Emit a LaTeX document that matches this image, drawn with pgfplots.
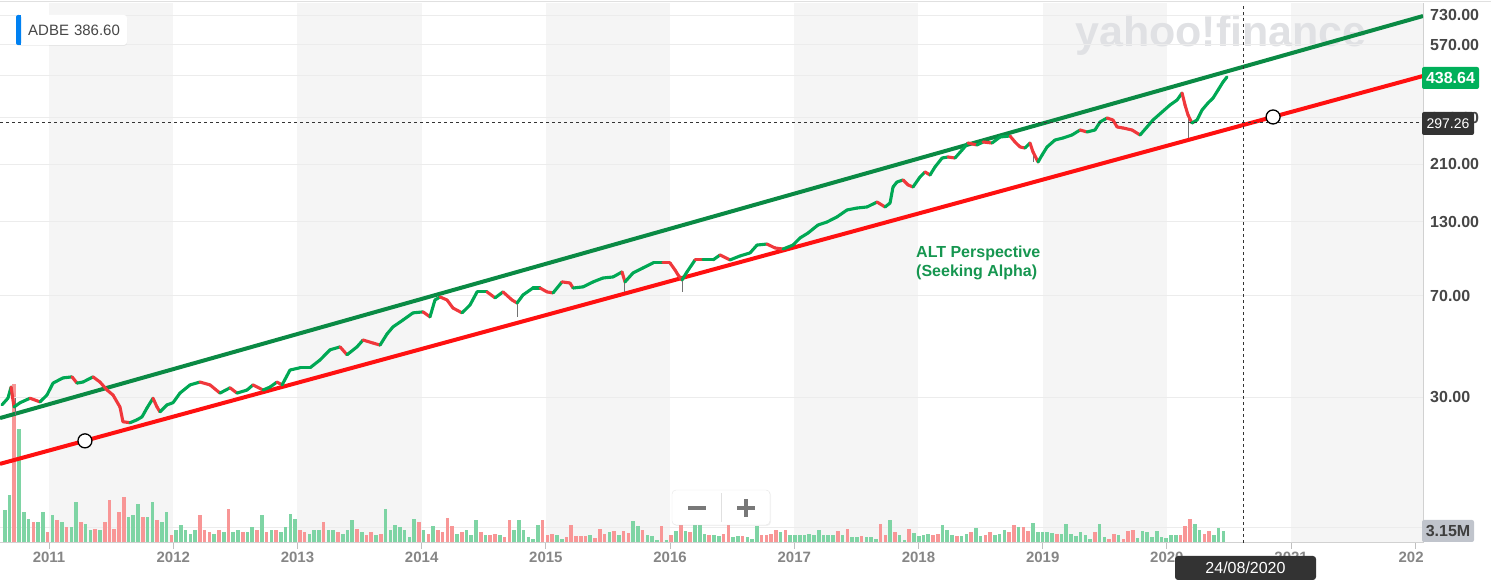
\documentclass[border=0pt]{standalone}
\usepackage{fontspec}
\setmainfont{Liberation Sans}
\usepackage{pgfplots}
\pgfplotsset{compat=1.18}
\usepackage{pgfplotstable}
\usetikzlibrary{shadows}

\definecolor{bandc}{RGB}{245,245,245}
\definecolor{gridc}{RGB}{236,236,236}
\definecolor{candG}{RGB}{0,168,84}
\definecolor{candR}{RGB}{240,56,60}
\definecolor{trendG}{RGB}{10,138,68}
\definecolor{trendR}{RGB}{255,16,16}
\definecolor{volG}{RGB}{126,212,164}
\definecolor{volR}{RGB}{248,150,150}
\definecolor{tickc}{RGB}{134,134,134}
\definecolor{labc}{RGB}{70,70,70}
\definecolor{tagdark}{RGB}{51,51,51}
\definecolor{taggreen}{RGB}{0,176,90}
\definecolor{taggray}{RGB}{192,196,204}
\definecolor{altgreen}{RGB}{22,150,80}
\definecolor{wmark}{RGB}{224,225,228}
\definecolor{yblue}{RGB}{0,129,242}
\definecolor{btn}{RGB}{120,120,120}

% weekly-ish closes: year, price, direction of next move (1 up / 0 down)
\pgfplotstableread{
x p m
2010.621 28.1 1
2010.669 29.7 1
2010.694 32.6 0
2010.718 27.6 1
2010.766 28.6 1
2010.847 29.7 0
2010.927 28.8 1
2010.983 30.5 1
2011.032 33.7 1
2011.112 35.2 1
2011.185 35.5 0
2011.225 33.7 1
2011.273 34.0 1
2011.354 35.5 0
2011.410 34.0 0
2011.467 31.8 0
2011.515 30.5 0
2011.571 27.6 0
2011.595 24.4 0
2011.652 24.2 1
2011.708 24.8 1
2011.748 25.4 1
2011.789 27.4 1
2011.837 29.7 0
2011.869 27.6 0
2011.893 26.5 1
2011.950 28.1 1
2011.998 28.6 1
2012.054 31.0 1
2012.135 33.2 1
2012.215 34.0 0
2012.296 33.2 0
2012.376 31.0 1
2012.457 32.4 0
2012.513 31.0 1
2012.594 31.8 1
2012.642 33.2 0
2012.723 31.8 1
2012.779 32.6 1
2012.835 34.0 0
2012.876 33.2 1
2012.940 37.6 1
2013.020 38.3 1
2013.101 38.3 1
2013.182 40.9 1
2013.262 44.5 1
2013.343 45.6 0
2013.399 42.7 1
2013.479 45.6 1
2013.528 48.3 0
2013.608 47.1 0
2013.665 46.3 1
2013.721 50.8 1
2013.769 53.9 1
2013.850 57.1 1
2013.930 60.6 1
2014.011 61.1 0
2014.067 58.6 1
2014.107 67.5 1
2014.148 69.2 0
2014.204 67.5 0
2014.252 63.1 0
2014.325 60.6 1
2014.389 64.7 1
2014.446 72.2 1
2014.526 72.2 0
2014.591 68.7 1
2014.655 72.2 0
2014.727 67.5 0
2014.768 65.8 1
2014.816 70.4 1
2014.896 74.6 1
2014.953 74.6 0
2015.009 72.2 0
2015.058 71.6 1
2015.130 78.5 0
2015.194 77.8 0
2015.219 74.6 1
2015.299 75.3 1
2015.380 78.5 1
2015.460 81.1 1
2015.541 81.8 1
2015.613 85.3 0
2015.637 78.5 1
2015.702 84.6 1
2015.782 88.2 1
2015.863 92.0 1
2015.943 92.0 0
2015.999 92.0 0
2016.040 86.7 0
2016.064 83.2 0
2016.096 79.8 1
2016.136 85.3 1
2016.201 94.3 0
2016.265 94.3 1
2016.346 94.3 1
2016.402 98.3 0
2016.483 94.3 1
2016.563 97.5 1
2016.644 100.0 1
2016.700 106.8 1
2016.780 107.7 0
2016.845 104.2 0
2016.909 103.3 1
2016.990 106.8 1
2017.046 113.3 1
2017.111 118.1 1
2017.191 126.3 1
2017.264 129.5 1
2017.344 135.1 1
2017.425 143.2 1
2017.505 145.5 1
2017.586 146.8 1
2017.666 153.0 0
2017.731 146.8 1
2017.771 151.7 1
2017.795 173.5 1
2017.827 180.9 1
2017.876 183.9 0
2017.916 176.4 0
2017.956 173.5 1
2018.012 188.6 1
2018.053 196.7 0
2018.093 191.8 1
2018.133 205.1 1
2018.190 221.0 1
2018.238 222.9 0
2018.294 221.0 1
2018.351 236.3 1
2018.399 250.5 0
2018.471 246.4 1
2018.520 252.6 0
2018.592 250.5 1
2018.657 263.4 1
2018.737 265.6 0
2018.777 252.6 0
2018.818 242.3 0
2018.858 240.3 1
2018.898 250.5 0
2018.922 232.4 0
2018.963 213.8 1
2018.995 226.6 1
2019.035 242.3 1
2019.099 256.9 1
2019.164 261.2 1
2019.236 267.9 1
2019.301 279.3 0
2019.357 274.7 1
2019.421 279.3 1
2019.462 298.6 1
2019.518 308.8 0
2019.566 303.6 0
2019.599 286.4 0
2019.647 284.0 0
2019.719 279.3 0
2019.784 267.9 1
2019.840 286.4 1
2019.888 303.6 1
2019.961 324.6 1
2020.025 344.1 1
2020.082 358.8 1
2020.122 380.4 0
2020.146 344.1 0
2020.170 316.6 0
2020.202 296.1 1
2020.243 303.6 1
2020.283 330.1 1
2020.331 349.9 1
2020.372 364.9 1
2020.412 390.1 1
2020.452 417.1 1
2020.484 434.9 1
}\pricedata

\begin{document}
\begin{tikzpicture}
\path[use as bounding box] (0pt,0pt) rectangle (1491pt,585pt);

% ---- background year bands ----
\begin{axis}[at={(0pt,42pt)}, anchor=south west, scale only axis,
  width=1423pt, height=540pt, xmin=2010.605, xmax=2022.062,
  ymin=0, ymax=1, hide axis]
\fill[bandc] (axis cs:2011,0) rectangle (axis cs:2012,1);
\fill[bandc] (axis cs:2013,0) rectangle (axis cs:2014,1);
\fill[bandc] (axis cs:2015,0) rectangle (axis cs:2016,1);
\fill[bandc] (axis cs:2017,0) rectangle (axis cs:2018,1);
\fill[bandc] (axis cs:2019,0) rectangle (axis cs:2020,1);
\fill[bandc] (axis cs:2021,0) rectangle (axis cs:2022.062,1);
\end{axis}

% watermark
\begin{scope}[x=1pt,y=1pt]
\node[anchor=base west, inner sep=0pt, text=wmark,
  font=\fontsize{43}{50}\selectfont\bfseries] at (1075,538) {yahoo!finance};
\end{scope}

% ---- volume (millions), x in weeks from start ----
\begin{axis}[at={(0pt,42pt)}, anchor=south west, scale only axis,
  width=1423pt, height=540pt, xmin=0, xmax=597.9,
  ymin=0, ymax=113.4, hide axis]
\draw[gridc, line width=1pt] (axis cs:0,3.15) -- (axis cs:597.9,3.15);
\addplot[ycomb, draw=volG, line width=3.6pt, mark=none] coordinates {
(2,6.9) (4,10.1) (8,23.9) (10,6.5) (12,5.0) (16,4.4) (18,6.5) (22,5.9) (26,4.4) (30,3.4) (32,8.6) (36,4.0) (38,2.7) (42,2.7) (54,5.5) (56,5.9) (58,8.2) (62,5.5) (64,8.6) (68,4.4) (70,6.5) (74,2.7) (76,3.8) (78,2.7) (80,1.9) (82,2.7) (90,1.9) (94,2.3) (98,2.3) (100,2.7) (104,2.3) (106,3.4) (110,5.9) (114,2.7) (118,2.3) (120,3.4) (122,6.1) (124,5.0) (130,1.9) (132,2.7) (134,2.7) (138,2.7) (140,2.7) (144,1.9) (146,2.7) (148,4.8) (152,2.3) (158,1.7) (162,7.1) (164,2.7) (166,3.8) (168,3.4) (170,2.7) (172,1.3) (174,5.0) (178,2.7) (182,3.6) (192,1.9) (196,2.7) (198,1.7) (200,4.8) (204,1.7) (210,1.7) (216,2.7) (218,4.8) (220,2.7) (222,1.3) (224,0.8) (226,3.8) (234,1.7) (236,0.8) (248,1.7) (256,2.3) (260,1.7) (266,4.6) (268,3.6) (272,1.7) (274,1.5) (276,0.6) (280,0.6) (284,2.5) (288,2.5) (292,4.4) (294,3.8) (296,1.9) (300,1.7) (302,1.5) (308,1.3) (310,1.5) (314,1.3) (316,0.8) (318,3.6) (328,2.3) (332,1.7) (334,1.7) (336,1.7) (338,1.7) (340,1.9) (342,1.7) (344,2.7) (346,1.7) (348,1.7) (350,1.7) (354,1.7) (358,1.3) (360,1.3) (364,1.3) (366,1.3) (368,0.8) (374,4.8) (378,1.7) (380,0.6) (384,2.1) (386,1.5) (388,1.7) (390,1.9) (396,3.8) (398,2.7) (400,1.7) (404,1.5) (406,1.9) (410,3.2) (412,1.5) (418,1.7) (420,1.9) (422,2.7) (428,3.4) (434,4.2) (436,2.3) (438,2.3) (440,2.3) (442,2.1) (446,1.9) (448,4.0) (450,1.9) (452,1.5) (454,2.3) (456,1.7) (458,0.8) (462,4.0) (464,1.3) (470,1.7) (478,1.1) (480,2.5) (482,2.3) (484,1.3) (486,2.5) (488,1.3) (490,1.1) (492,1.7) (494,1.7) (502,4.0) (504,2.7) (510,1.7) (512,3.2) (514,2.5)
};
\addplot[ycomb, draw=volR, line width=3.6pt, mark=none] coordinates {
(6,33.4) (14,4.4) (20,2.3) (24,4.8) (28,3.4) (34,4.4) (40,2.9) (44,4.4) (46,9.0) (48,2.9) (50,6.5) (52,9.7) (60,5.5) (66,4.8) (72,1.7) (84,5.9) (86,2.7) (88,2.3) (92,2.7) (96,7.1) (102,2.3) (108,2.7) (112,2.3) (116,2.7) (126,2.7) (128,2.3) (136,4.4) (142,2.3) (150,2.9) (154,1.7) (156,2.3) (160,1.9) (176,4.4) (180,1.9) (184,2.7) (186,2.3) (188,5.3) (190,3.6) (194,2.3) (202,2.3) (206,1.7) (208,1.9) (212,1.3) (214,4.8) (228,4.8) (230,1.7) (232,1.9) (238,1.3) (240,3.8) (242,1.5) (244,1.5) (246,1.5) (250,1.1) (252,2.9) (254,1.9) (258,2.5) (262,2.5) (264,2.1) (270,2.7) (278,3.6) (282,1.7) (286,5.0) (290,2.3) (298,1.7) (304,1.9) (306,4.4) (312,1.5) (320,1.7) (322,1.7) (324,1.9) (326,2.7) (330,2.7) (352,2.5) (356,2.9) (362,1.5) (370,4.0) (372,1.7) (376,2.3) (382,2.9) (392,1.7) (394,1.9) (402,1.5) (408,2.3) (414,1.7) (416,2.3) (424,2.3) (426,3.8) (430,3.4) (432,2.5) (444,1.9) (460,2.3) (466,0.8) (468,1.9) (472,0.8) (474,2.5) (476,2.7) (496,1.7) (498,3.6) (500,5.0) (506,1.9) (508,2.5)
};
\end{axis}

% ---- price (log scale) ----
\begin{axis}[at={(0pt,42pt)}, anchor=south west, scale only axis,
  width=1423pt, height=540pt,
  xmin=2010.605, xmax=2022.062, ymode=log, ymin=8.86, ymax=807,
  axis x line*=bottom, axis y line*=right,
  axis line style={draw=black!18, line width=1pt, -},
  xtick={2011,2012,2013,2014,2015,2016,2017,2018,2019,2020,2021,2022},
  xticklabels={2011,2012,2013,2014,2015,2016,2017,2018,2019,2020,2021,202\phantom{2}},
  xtick align=outside, major tick length=6pt,
  xtick style={draw=black!25, line width=1pt},
  xticklabel style={font=\fontsize{15}{18}\selectfont\bfseries, text=tickc},
  ytick={30,70,130,210,310,440,570,730},
  yticklabels={30.00,70.00,130.00,210.00,310.00,440.00,570.00,730.00},
  ytick style={draw=none}, yminorticks=false,
  yticklabel style={font=\fontsize{16}{19}\selectfont\bfseries, text=labc,
    anchor=west, inner sep=0pt, xshift=7pt},
  ymajorgrids, grid style={gridc, line width=1pt},
  clip=true]
% trend channel
\addplot[trendG, line width=4pt, mark=none] coordinates {(2010.605,25.16) (2022.062,723.9)};
\addplot[trendR, line width=4pt, mark=none] coordinates {(2010.605,17.16) (2022.062,438.5)};
% wicks
\addplot[draw=black!55, line width=1pt, mark=none, unbounded coords=jump] coordinates {
(2010.726,29.7) (2010.726,25.8) (2010.726,nan)
(2014.768,65.8) (2014.768,58.6) (2014.768,nan)
(2015.637,78.5) (2015.637,72.2) (2015.637,nan)
(2016.096,79.8) (2016.096,72.2) (2016.096,nan)
(2018.922,232.4) (2018.922,213.8) (2018.922,nan)
(2020.170,316.6) (2020.170,261.2)
};
% price
\addplot[mesh, shader=flat corner, line width=3.1pt, line cap=round,
  point meta=explicit, point meta min=0, point meta max=1,
  colormap={updown}{color(0)=(candR) color(1)=(candG)}]
  table[x=x, y=p, meta=m] {\pricedata};
% anchor points on the support line
\addplot[only marks, mark=*, mark size=7pt,
  mark options={fill=white, draw=black, line width=1.3pt}]
  coordinates {(2011.289,20.80) (2020.855,311.4)};
% crosshair
\draw[tagdark, line width=0.8pt, dash pattern=on 3pt off 3pt]
  (axis cs:2010.605,297.26) -- (axis cs:2022.062,297.26);
\draw[tagdark, line width=0.8pt, dash pattern=on 3pt off 3pt]
  (axis cs:2020.613,8.86) -- (axis cs:2020.613,807);
\end{axis}

\begin{scope}[x=1pt,y=1pt]
% top border
\draw[black!12, line width=1pt] (0,583) -- (1491,583);

% annotation
\node[anchor=north west, align=left, inner sep=0pt, text=altgreen,
  font=\fontsize{16}{19}\selectfont\bfseries] at (916,339)
  {ALT Perspective\\(Seeking Alpha)};

% ticker box
\fill[white, rounded corners=3pt,
  drop shadow={shadow xshift=0pt, shadow yshift=-1pt, opacity=0.12}]
  (16,540) rectangle (127,570);
\fill[yblue, rounded corners=2pt] (16,540) rectangle (21,570);
\fill[yblue] (19,540) rectangle (21,570);
\node[anchor=west, inner sep=0pt, text=labc, font=\fontsize{15}{18}\selectfont]
  at (28,555) {ADBE\hspace{5pt}386.60};

% zoom buttons
\fill[white, rounded corners=4pt,
  drop shadow={shadow xshift=1pt, shadow yshift=-1pt, opacity=0.10}]
  (672,60) rectangle (770,95);
\draw[black!10, rounded corners=4pt] (672,60) rectangle (770,95);
\draw[black!12, line width=1pt] (721.5,63) -- (721.5,92);
\draw[btn, line width=3.4pt] (688,77) -- (706,77);
\draw[btn, line width=3.4pt] (737,77) -- (755,77);
\draw[btn, line width=3.4pt] (746,68) -- (746,86);

% right-hand tags
\fill[taggreen, rounded corners=2pt] (1422,496) rectangle (1479,518);
\node[text=white, inner sep=0pt, font=\fontsize{16}{19}\selectfont\bfseries]
  at (1450.5,507) {438.64};
\fill[tagdark, rounded corners=2pt] (1422,450) rectangle (1474,473);
\node[text=white, inner sep=0pt, font=\fontsize{14}{17}\selectfont]
  at (1448,461.5) {297.26};
\fill[taggray, rounded corners=2pt] (1422,43) rectangle (1474,65);
\node[text=labc!90!black, inner sep=0pt, font=\fontsize{16}{19}\selectfont\bfseries]
  at (1448,54) {3.15M};

% date tag
\fill[tagdark, rounded corners=3pt] (1175,5) rectangle (1316,29);
\node[text=white, inner sep=0pt, font=\fontsize{16}{19}\selectfont]
  at (1245.5,17) {24/08/2020};
\end{scope}
\end{tikzpicture}
\end{document}
